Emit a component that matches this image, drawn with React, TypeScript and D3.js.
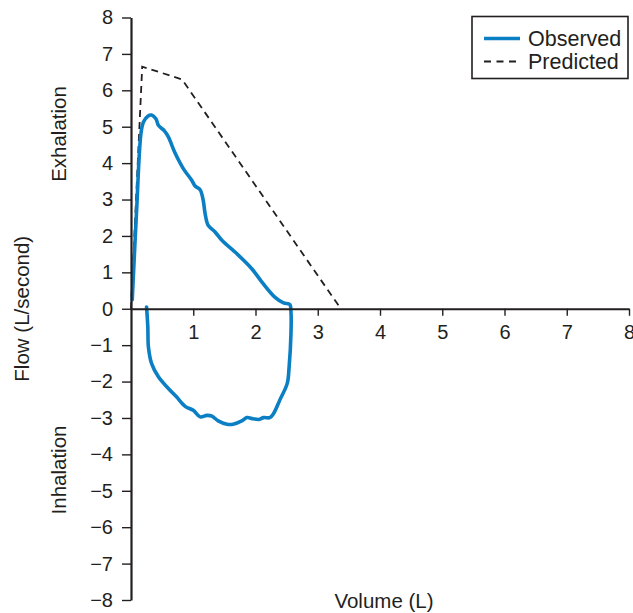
import React, { useEffect, useRef } from "react";
import * as d3 from "d3";

const width = 633;
const height = 613;
const ink = "#231f20";
const blue = "#0b7fc4";
const font = "'Liberation Sans', Arial, Helvetica, sans-serif";

// observed loop: exhalation (top) then inhalation (bottom), in drawing order
const observedVolume = [
  0.02, 0.09, 0.16, 0.2, 0.27, 0.33, 0.4, 0.44, 0.54, 0.6, 0.71, 0.84, 0.975, 1.03, 1.11, 1.16,
  1.19, 1.24, 1.35, 1.46, 1.67, 1.94, 2.1, 2.31, 2.45, 2.55, 2.57, 2.57, 2.54, 2.51, 2.39, 2.29,
  2.23, 2.13, 2.05, 1.96, 1.86, 1.78, 1.64, 1.54, 1.4, 1.3, 1.22, 1.11, 1.0, 0.87, 0.73, 0.6,
  0.44, 0.33, 0.28, 0.27, 0.25,
];
const observedFlow = [
  0.25, 2.7, 4.82, 5.13, 5.29, 5.32, 5.22, 5.04, 4.88, 4.72, 4.27, 3.85, 3.53, 3.37, 3.27, 2.98,
  2.62, 2.29, 2.11, 1.88, 1.56, 1.1, 0.74, 0.32, 0.16, 0.12, -0.1, -0.68, -1.6, -2.05, -2.51, -2.88,
  -2.99, -2.99, -3.04, -3.02, -2.99, -3.08, -3.17, -3.17, -3.08, -2.95, -2.93, -2.97, -2.79, -2.68, -2.42, -2.19,
  -1.87, -1.5, -1.05, -0.5, 0.05,
];

const predictedVolume = [0, 0.18, 0.82, 3.37];
const predictedFlow = [0, 6.65, 6.3, 0];

const yTicks = d3.range(-8, 9);
const xTicks = d3.range(1, 9);

export default function App() {
  const xAxisRef = useRef<SVGGElement>(null);
  const yAxisRef = useRef<SVGGElement>(null);

  const x = d3.scaleLinear().domain([0, 8]).range([131, 629]);
  const y = d3.scaleLinear().domain([-8, 8]).range([600, 17.5]);

  useEffect(() => {
    const xAxis = d3.axisBottom(x).tickValues(xTicks).tickSize(7).tickSizeOuter(0).tickPadding(9);
    const yAxis = d3.axisLeft(y).tickValues(yTicks).tickSize(9).tickSizeOuter(0).tickPadding(9);

    const gx = d3.select(xAxisRef.current!).call(xAxis);
    const gy = d3.select(yAxisRef.current!).call(yAxis);

    [gx, gy].forEach((g) => {
      g.attr("font-family", null).attr("font-size", null);
      g.select(".domain").attr("stroke", ink).attr("stroke-width", 2.2);
      g.selectAll(".tick line").attr("stroke", ink).attr("stroke-width", 1.4);
      g.selectAll(".tick text")
        .attr("fill", ink)
        .style("font-family", font)
        .style("font-size", "20px");
    });
  }, []);

  const pts = (vs: number[], fs: number[]) => vs.map((v, i) => [v, fs[i]] as [number, number]);

  const observedLine = d3
    .line<[number, number]>()
    .x((d) => x(d[0]))
    .y((d) => y(d[1]))
    .curve(d3.curveCatmullRom.alpha(0.5));
  const predictedLine = d3
    .line<[number, number]>()
    .x((d) => x(d[0]))
    .y((d) => y(d[1]));

  const labelStyle = { fontFamily: font, fontSize: "20.5px", fill: ink };
  const legendStyle = { fontFamily: font, fontSize: "21.5px", fill: ink };

  return (
    <div style={{ position: "absolute", left: 0, top: 0 }}>
      <svg width={width} height={height} style={{ display: "block", background: "#fff" }}>
        <path
          d={predictedLine(pts(predictedVolume, predictedFlow))!}
          fill="none"
          stroke={ink}
          strokeWidth={1.8}
          strokeDasharray="7,5"
        />
        <path
          d={observedLine(pts(observedVolume, observedFlow))!}
          fill="none"
          stroke={blue}
          strokeWidth={3.6}
          strokeLinejoin="round"
          strokeLinecap="round"
        />

        <g ref={xAxisRef} transform={"translate(0," + y(0) + ")"}></g>
        <g ref={yAxisRef} transform={"translate(" + x(0) + ",0)"}></g>

        {/* axis titles */}
        <text x={384} y={608} textAnchor="middle" style={labelStyle}>Volume (L)</text>
        <text transform={"translate(29," + y(0) + ") rotate(-90)"} textAnchor="middle" style={labelStyle}>
          Flow (L/second)
        </text>
        <text transform={"translate(66," + 134 + ") rotate(-90)"} textAnchor="middle" style={labelStyle}>
          Exhalation
        </text>
        <text transform={"translate(66," + 470 + ") rotate(-90)"} textAnchor="middle" style={labelStyle}>
          Inhalation
        </text>

        {/* legend */}
        <g>
          <rect x={472} y={16.5} width={156} height={62} fill="#fff" stroke={ink} strokeWidth={1.6} />
          <line x1={484} x2={520} y1={38.5} y2={38.5} stroke={blue} strokeWidth={3.6} />
          <text x={528} y={45.5} style={legendStyle}>Observed</text>
          <line x1={484} x2={520} y1={61.5} y2={61.5} stroke={ink} strokeWidth={1.8} strokeDasharray="7,5.5" />
          <text x={528} y={68.5} style={legendStyle}>Predicted</text>
        </g>
      </svg>
    </div>
  );
}
